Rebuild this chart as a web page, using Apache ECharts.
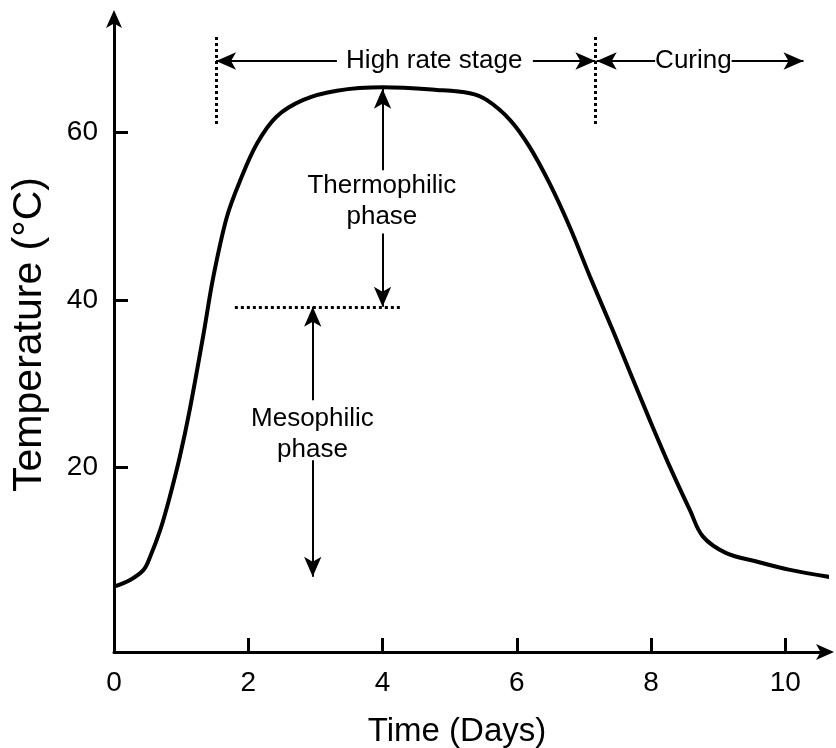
<!DOCTYPE html>
<html>
<head>
<meta charset="utf-8">
<script src="https://cdn.jsdelivr.net/npm/echarts@6/dist/echarts.min.js"></script>
<style>html,body{margin:0;padding:0;background:#fff}#c{width:836px;height:748px}</style>
</head>
<body>
<div id="c"></div>
<script>
// ---- data ----
const days = [0, 0.24, 0.44, 0.54, 0.69, 0.83, 0.98, 1.13, 1.33, 1.48, 1.68, 1.88, 2.13, 2.42, 2.82, 3.32, 4.01, 4.81, 5.3, 5.55, 5.9, 6.19, 6.49, 6.79, 7.09, 7.44, 7.69, 7.99, 8.28, 8.58, 8.77, 9.12, 9.57, 10.07, 10.7];
const temps = [5.8, 6.6, 7.8, 9.4, 12.6, 16.5, 21.3, 27.0, 35.8, 42.8, 49.9, 54.3, 58.7, 61.9, 63.9, 65.0, 65.4, 65.1, 64.7, 63.9, 61.5, 58.3, 53.9, 48.7, 42.8, 36.2, 31.3, 25.5, 20.1, 14.9, 11.8, 9.8, 8.8, 7.8, 6.9];
const xTickValues = [0, 2, 4, 6, 8, 10];
const yTickValues = [20, 40, 60];

// annotation arrows: [startX, startY, tipX, tipY]
const arrowSegments = [
  [3.32, 68.55, 1.52, 68.55],
  [6.24, 68.55, 7.17, 68.55],
  [8.06, 68.55, 7.19, 68.55],
  [9.20, 68.55, 10.27, 68.55],
  [4.0, 55.5, 4.0, 65.25],
  [4.0, 47.95, 4.0, 39.2],
  [2.96, 28.06, 2.96, 39.2],
  [2.96, 20.9, 2.96, 6.98]
];
// dotted reference lines: [x1, y1, x2, y2]
const dottedSegments = [
  [1.52, 71.4, 1.52, 60.8],
  [7.17, 71.4, 7.17, 60.8],
  [1.80, 39.2, 4.28, 39.2]
];
// annotation texts: [x, y, text]
const annotationTexts = [
  [4.77, 68.55, 'High rate stage'],
  [8.63, 68.55, 'Curing'],
  [3.99, 51.8, 'Thermophilic\nphase'],
  [2.956, 24.0, 'Mesophilic\nphase']
];

const FONT = 'Liberation Sans, Arial, Helvetica, sans-serif';
const chart = echarts.init(document.getElementById('c'), null, {renderer: 'canvas'});

const markData = [];
arrowSegments.forEach(s => {
  markData.push([
    {coord: [s[0], s[1]], symbol: 'none'},
    {coord: [s[2], s[3]], symbol: 'arrow', lineStyle: {type: 'solid', width: 2, color: '#000'}}
  ]);
});
dottedSegments.forEach(s => {
  markData.push([
    {coord: [s[0], s[1]], symbol: 'none'},
    {coord: [s[2], s[3]], symbol: 'none', lineStyle: {type: [3, 3], width: 3, color: '#000'}}
  ]);
});

chart.setOption({
  animation: false,
  backgroundColor: '#fff',
  grid: {left: 114, right: 9, top: 17, bottom: 96, containLabel: false, outerBoundsMode: 'none'},
  xAxis: {
    type: 'value', min: 0, max: 10.62,
    name: 'Time (Days)', nameLocation: 'middle', nameGap: 63,
    nameTextStyle: {fontFamily: FONT, fontSize: 33, color: '#000', padding: [0, 27, 0, 0]},
    axisLine: {onZero: false, lineStyle: {color: '#000', width: 3}, symbol: ['none', 'arrow'], symbolSize: [12, 18], symbolOffset: [0, 7]},
    axisTick: {inside: true, length: 14, lineStyle: {color: '#000', width: 3}, customValues: xTickValues},
    axisLabel: {fontFamily: FONT, fontSize: 28, color: '#000', margin: 17, customValues: xTickValues},
    splitLine: {show: false}
  },
  yAxis: {
    type: 'value', min: -2, max: 73.8,
    name: 'Temperature (°C)', nameLocation: 'middle', nameGap: 64, nameRotate: 90,
    nameTextStyle: {fontFamily: FONT, fontSize: 41, color: '#000'},
    axisLine: {onZero: false, lineStyle: {color: '#000', width: 3}, symbol: ['none', 'arrow'], symbolSize: [12, 18], symbolOffset: [0, 7]},
    axisTick: {inside: true, length: 14, lineStyle: {color: '#000', width: 3}, customValues: yTickValues},
    axisLabel: {fontFamily: FONT, fontSize: 28, color: '#000', margin: 16, customValues: yTickValues},
    splitLine: {show: false}
  },
  series: [
    {
      type: 'line',
      data: days.map((d, i) => [d, temps[i]]),
      smooth: 0.35,
      showSymbol: false,
      symbol: 'none',
      clip: false,
      lineStyle: {color: '#000', width: 4},
      markLine: {
        silent: true,
        symbol: ['none', 'arrow'],
        symbolSize: [13, 20],
        label: {show: false},
        lineStyle: {color: '#000', width: 2, type: 'solid'},
        data: markData
      }
    },
    {
      type: 'scatter',
      symbolSize: 0,
      silent: true,
      itemStyle: {opacity: 1, color: '#000'},
      data: annotationTexts.map(t => ({value: [t[0], t[1]], name: t[2]})),
      label: {
        show: true, position: 'inside', formatter: '{b}',
        fontFamily: FONT, fontSize: 26, lineHeight: 31, color: '#000', opacity: 1
      }
    }
  ]
});
</script>
</body>
</html>
